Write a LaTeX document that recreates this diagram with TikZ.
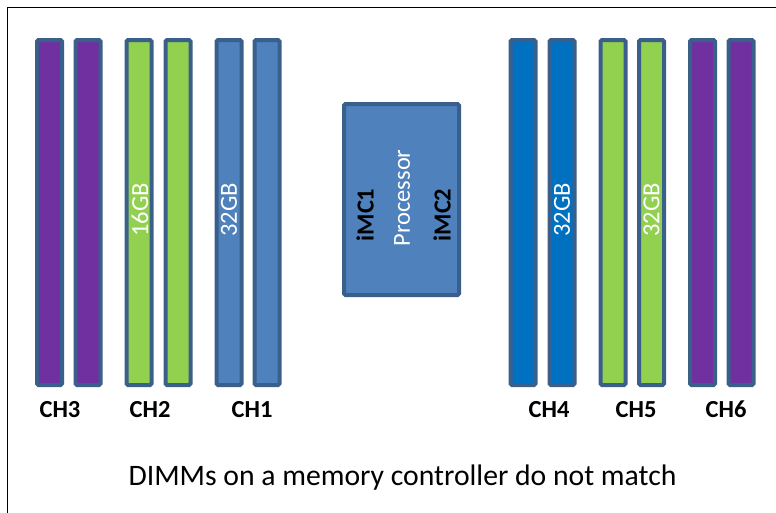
\documentclass[tikz,border=0pt]{standalone}
\usepackage{fontspec}
\setmainfont{Carlito}

\definecolor{dimmline}{HTML}{3A5F8B}
\definecolor{chpurple}{HTML}{7030A0}
\definecolor{chgreen}{HTML}{92D050}
\definecolor{chblue}{HTML}{4F81BD}
\definecolor{chbright}{HTML}{0070C0}

\tikzset{
  dimm/.style={draw=dimmline, line width=4pt, rounded corners=1.5pt, minimum width=25pt, minimum height=345pt, inner sep=0pt},
  size/.style={rotate=90, white, font=\fontsize{24.5}{26}\selectfont},
  chname/.style={anchor=base, font=\fontsize{24.5}{26}\selectfont\bfseries}
}

\begin{document}
\begin{tikzpicture}[x=1pt,y=-1pt]
\useasboundingbox (0,0) rectangle (776,512);
\clip (0,0) rectangle (776,512);
\draw[line width=1.3pt] (7.5,530) -- (7.5,7.5) -- (800,7.5);

% left controller
\node[dimm, fill=chpurple] (c3a) at (49.5,212.5) {};
\node[dimm, fill=chpurple] (c3b) at (88,212.5) {};
\node[dimm, fill=chgreen] (c2a) at (139,212.5) {};
\node[dimm, fill=chgreen] (c2b) at (178,212.5) {};
\node[dimm, fill=chblue] (c1a) at (229,212.5) {};
\node[dimm, fill=chblue] (c1b) at (267,212.5) {};

% right controller
\node[dimm, fill=chbright] (c4a) at (523,212.5) {};
\node[dimm, fill=chbright] (c4b) at (562,212.5) {};
\node[dimm, fill=chgreen] (c5a) at (613,212.5) {};
\node[dimm, fill=chgreen] (c5b) at (651.5,212.5) {};
\node[dimm, fill=chpurple] (c6a) at (702.5,212.5) {};
\node[dimm, fill=chpurple] (c6b) at (741,212.5) {};

\node[size] (s2) at (140,210) {16GB};
\node[size] (s1) at (229,210) {32GB};
\node[size] (s4) at (562,210) {32GB};
\node[size] (s5) at (651.5,210) {32GB};

\node[chname] (l3) at (60,417) {CH3};
\node[chname] (l2) at (150,417) {CH2};
\node[chname] (l1) at (252,417) {CH1};
\node[chname] (l4) at (549,417) {CH4};
\node[chname] (l5) at (636,417) {CH5};
\node[chname] (l6) at (726,417) {CH6};

% processor
\node[draw=dimmline, fill=chblue, line width=4pt, rounded corners=1.5pt, minimum width=115pt, minimum height=191pt] (proc) at (401.5,199.5) {};
\node[rotate=90, white, font=\fontsize{24.5}{26}\selectfont] (ptext) at (402,198) {Processor};
\node[rotate=90, font=\fontsize{24.5}{26}\selectfont\bfseries] (imc1) at (365,215) {iMC1};
\node[rotate=90, font=\fontsize{24.5}{26}\selectfont\bfseries] (imc2) at (442,215) {iMC2};

\node[anchor=base, font=\fontsize{29.7}{32}\selectfont] (caption) at (402.5,485) {DIMMs on a memory controller do not match};
\end{tikzpicture}
\end{document}
